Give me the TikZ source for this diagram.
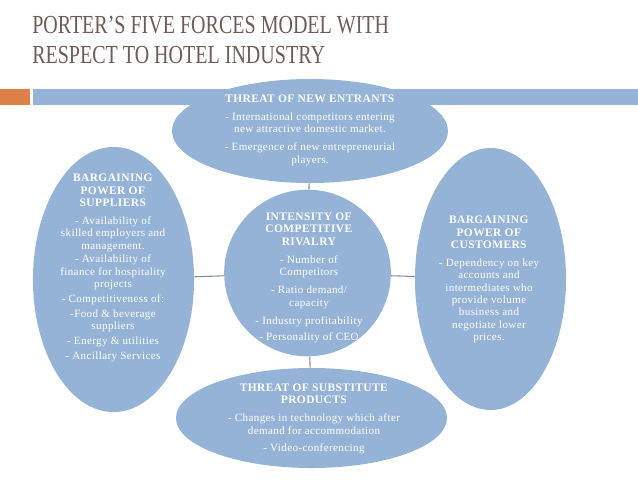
\documentclass[tikz,border=0pt]{standalone}
\usepackage{fontspec}
\setmainfont{Liberation Serif}
\newfontfamily\forcefont[LetterSpace=3.5]{Liberation Serif}
\newfontfamily\titlefont[FakeStretch=0.77]{Liberation Serif}
\usetikzlibrary{shapes.geometric, positioning}
\definecolor{forceblue}{RGB}{149,179,214}
\definecolor{barorange}{RGB}{221,128,71}
\definecolor{titlebrown}{RGB}{108,93,88}
\definecolor{linkgray}{RGB}{128,140,152}
\tikzset{
  force/.style={ellipse, fill=forceblue, inner sep=0pt},
  rivalry/.style={circle, fill=forceblue, inner sep=0pt, minimum size=125pt},
  ftext/.style={text=white, align=center, inner sep=0pt,
                font=\forcefont\fontsize{8.3}{9.2}\selectfont},
  link/.style={draw=linkgray, line width=0.8pt},
}
\newcommand{\fh}[1]{\textbf{\fontsize{8.6}{9.2}\selectfont #1}}

\begin{document}
\begin{tikzpicture}[x=0.75pt, y=-0.75pt]
  \useasboundingbox (0,0) rectangle (638,479);
  \fill[barorange] (0,89) rectangle (30,105);
  \fill[forceblue] (33,89) rectangle (638,105);
  \node[anchor=north west, inner sep=0pt, align=left, text=titlebrown,
        font=\titlefont\fontsize{19.5}{22.5}\selectfont] (title) at (32,16)
        {PORTER’S FIVE FORCES MODEL WITH\\RESPECT TO HOTEL INDUSTRY};

  \node[force, minimum width=207pt, minimum height=78pt] (entr) at (310,131) {};
  \node[force, minimum width=120.8pt, minimum height=198.8pt] (supp) at (113.5,279.5) {};
  \node[rivalry] (rival) at (307.5,273) {};
  \node[force, minimum width=113.3pt, minimum height=196.5pt] (cust) at (490.5,279) {};
  \node[force, minimum width=203.3pt, minimum height=75pt] (subst) at (311.5,418) {};

  \draw[link] (rival) -- (entr);
  \draw[link] (rival) -- (supp);
  \draw[link] (rival) -- (cust);
  \draw[link] (rival) -- (subst);

  \node[ftext] (entr-t) at (310,130) {\fh{THREAT OF NEW ENTRANTS}\\[4.5pt]
    - International competitors entering\\ new attractive domestic market.\\[4.5pt]
    - Emergence of new entrepreneurial\\ players.};
  \node[ftext] (supp-t) at (113,268) {\fh{BARGAINING}\\ \fh{POWER OF}\\ \fh{SUPPLIERS}\\[4.5pt]
    - Availability of\\ skilled employers and\\ management.\\[1pt]
    - Availability of\\ finance for hospitality\\ projects\\[2pt]
    - Competitiveness of:\\[2pt] -Food \& beverage\\ suppliers\\[2pt]
    - Energy \& utilities\\[2pt] - Ancillary Services};
  \node[ftext] (rival-t) at (309,278) {\fh{INTENSITY OF}\\ \fh{COMPETITIVE}\\ \fh{RIVALRY}\\[4.5pt]
    - Number of\\ Competitors\\[4.5pt] - Ratio demand/\\ capacity\\[4.5pt]
    - Industry profitability\\[3pt] - Personality of CEO};
  \node[ftext] (cust-t) at (489,279.5) {\fh{BARGAINING}\\ \fh{POWER OF}\\ \fh{CUSTOMERS}\\[4.5pt]
    - Dependency on key\\ accounts and\\ intermediates who\\ provide volume\\
    business and\\ negotiate lower\\ prices.};
  \node[ftext] (subst-t) at (314,419) {\fh{THREAT OF SUBSTITUTE}\\ \fh{PRODUCTS}\\[4.5pt]
    - Changes in technology which after\\ demand for accommodation\\[4pt]
    - Video-conferencing};
\end{tikzpicture}
\end{document}
